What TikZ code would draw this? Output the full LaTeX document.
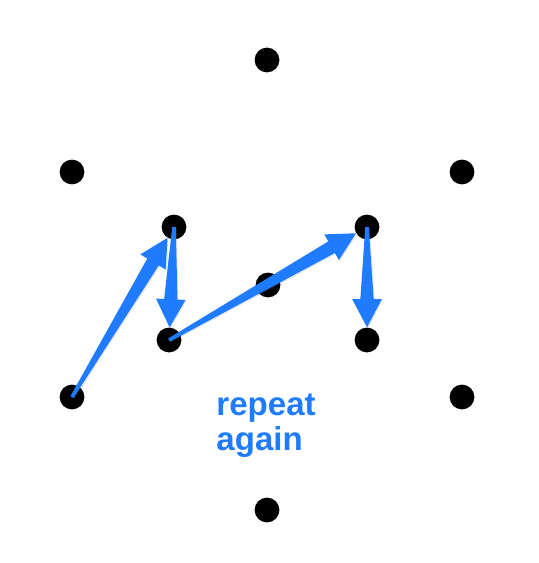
\documentclass[tikz,border=0pt]{standalone}
\usepackage{fontspec}
\setmainfont{Liberation Sans}
\usetikzlibrary{calc,shadows}
\definecolor{arrowblue}{HTML}{1F7BFF}

% tapered arrow from the centre of #1 to the rim of #2
\newcommand{\taperarrow}[2]{%
  \coordinate (tl) at (#1.center);
  \coordinate (tp) at ($(#2.center)!18pt!(#1.center)$);
  \coordinate (hb) at ($(tp)!40pt!(tl)$);
  \fill[fill=arrowblue,drop shadow={opacity=0.2,shadow xshift=1.5pt,shadow yshift=-1.5pt}]
    ($(tl)!2.5pt!-90:(tp)$) -- ($(hb)!9.5pt!90:(tl)$)
    -- ($(hb)!21pt!90:(tl)$) -- (tp) -- ($(hb)!21pt!-90:(tl)$)
    -- ($(hb)!9.5pt!-90:(tl)$) -- ($(tl)!2.5pt!90:(tp)$) -- cycle;}

\begin{document}
\begin{tikzpicture}[x=0.5mm,y=-0.5mm,
  dot/.style={circle,fill=black,inner sep=0pt,minimum size=12.4mm},
  note/.style={text=arrowblue,font=\fontsize{47}{50}\selectfont\bfseries,align=left}]
\useasboundingbox (0,0) rectangle (538,563);
\foreach \name/\x/\y in {top/267/60,upleft/72/172,upright/462/172,hub/268/285,
  lowleft/72/397,lowright/462/397,bottom/267/510,
  a/174/227,b/169/340,c/367/227,d/367/340}{
  \node[dot] (\name) at (\x,\y) {};}
\taperarrow{lowleft}{a}
\taperarrow{a}{b}
\taperarrow{b}{c}
\taperarrow{c}{d}
\node[note,anchor=north west] (label) at (214,391) {repeat\\again};
\end{tikzpicture}
\end{document}
